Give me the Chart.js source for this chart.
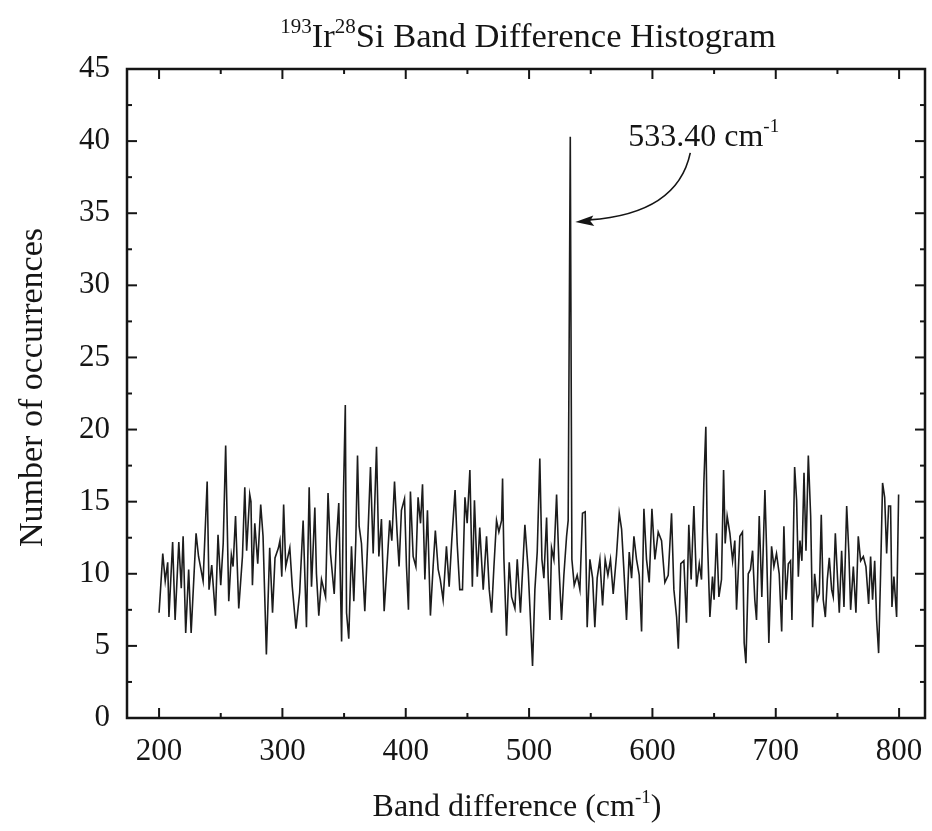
<!DOCTYPE html>
<html>
<head>
<meta charset="utf-8">
<title>193Ir28Si Band Difference Histogram</title>
<script src="https://cdn.jsdelivr.net/npm/chart.js@4.4.1/dist/chart.umd.min.js"></script>
<style>
  html, body { margin: 0; padding: 0; background: #fff; }
  #wrap { width: 932px; height: 831px; }
</style>
</head>
<body>
<div id="wrap"><canvas id="chart" width="932" height="831"></canvas></div>
<script>
// band difference (cm-1) and how often each one occurs
const bandDiff = [
  200, 203, 205, 207, 208, 211, 213, 216, 218, 219.5, 221.6, 224, 226, 230, 232, 235.7, 239, 240.5, 242.7, 245.7,
  247.8, 250, 252, 254, 256.5, 258.6, 260, 262, 264.6, 267.6, 269.5, 271, 273.5, 274.5, 275.7, 277.6, 280, 282.4, 284.3, 287,
  289.7, 292, 294, 296.8, 298, 299.5, 301, 302.7, 306, 308, 311, 314, 316.8, 319.5, 321.7, 323.6, 326.3, 327.6, 329.5, 331.7,
  335, 337, 339, 342, 343.8, 345.7, 348, 349.5, 351, 352, 353.8, 356, 357.9, 359.5, 360.9, 362.2, 364.1, 366.8, 369, 371.4,
  373.6, 376.3, 378.2, 380.3, 382.5, 384.9, 387, 388.7, 390.9, 393, 394.6, 396.5, 399, 400.6, 402.2, 403.8, 406, 408.2, 410, 412,
  413.6, 415.5, 417.6, 420, 422.2, 424, 426.3, 428, 430.3, 433, 435.2, 437.3, 440, 441.7, 443.8, 446, 448, 449.8, 452, 454,
  455.7, 458, 460, 462.8, 465.5, 467.7, 469.6, 471.5, 473.6, 475.5, 477.7, 478.5, 479.6, 481.7, 483.9, 485.8, 488.5, 490.4, 493, 496.6,
  499.3, 500.6, 502.8, 504.7, 506.6, 508.7, 510.4, 512, 514.2, 515.5, 516.9, 518.2, 520.1, 522.3, 524.4, 526.3, 528.2, 530.4, 531.7, 533.4,
  534.7, 536.6, 539, 541.2, 543.3, 545.5, 547.1, 549.3, 551.5, 553.3, 555.2, 557.4, 559.6, 561.7, 563.9, 566, 568.2, 570.9, 573.1, 575,
  576.9, 579, 581.2, 583.1, 585, 587.1, 589.3, 591.2, 593.1, 595.2, 597.4, 599.6, 602, 604.7, 607.4, 610.1, 612.8, 615.5, 617.4, 619.6,
  621, 623, 625.5, 627.6, 629.5, 631.4, 633.6, 635.8, 638, 639.8, 641.7, 643.3, 644.4, 646.6, 648.7, 650, 652, 653.9, 656, 657.7,
  659, 660.6, 662.8, 665, 666.8, 668.2, 670.9, 673, 674.4, 675.8, 677.7, 679.5, 681.2, 683, 684.4, 686.6, 688.7, 691.2, 692.5, 694.4,
  696.6, 698.5, 700.6, 702.8, 704.8, 706.6, 708.3, 710.2, 712, 713.1, 715.3, 716.9, 718.3, 719.6, 721.2, 722.9, 724.5, 726.4, 728.3, 729.9,
  731.5, 733.7, 735.3, 736.9, 738.5, 740.2, 741.8, 743.4, 745.3, 746.6, 748.3, 749.9, 751.5, 753.4, 755.3, 757.5, 759.3, 760.7, 762.9, 765,
  766.9, 768.8, 771, 773.1, 775.3, 776.9, 778.5, 780.2, 781.8, 783.4, 785, 786.6, 788.3, 789.9, 791.5, 793.1, 794.2, 795.8, 798, 799.6
]
const counts = [
  7.3, 11.4, 9.5, 10.8, 7.0, 12.2, 6.8, 12.2, 9.0, 12.6, 5.9, 10.3, 5.9, 12.8, 11.2, 9.5, 16.4, 8.9, 10.6, 7.1,
  12.7, 9.2, 12.1, 18.9, 8.1, 11.3, 10.5, 14.0, 7.6, 11.2, 16.0, 11.6, 15.5, 15.0, 9.2, 13.5, 10.7, 14.8, 12.6, 4.4,
  11.8, 7.3, 11.1, 11.8, 12.3, 9.8, 14.8, 10.5, 11.8, 9.1, 6.2, 8.7, 13.7, 6.3, 16.0, 9.1, 14.6, 10.0, 7.1, 9.6,
  8.4, 15.6, 11.4, 8.6, 12.3, 14.9, 5.3, 15.5, 21.7, 7.3, 5.5, 11.9, 8.1, 12.3, 18.2, 13.3, 12.1, 7.4, 11.9, 17.4,
  11.4, 18.8, 11.2, 13.8, 7.4, 10.7, 13.7, 12.3, 16.4, 12.8, 10.5, 14.4, 15.2, 10.5, 7.5, 15.7, 11.2, 10.5, 15.3, 13.5,
  16.2, 9.6, 14.4, 7.1, 10.5, 13.0, 10.3, 9.6, 8.2, 11.9, 9.1, 12.3, 15.8, 12.1, 8.9, 8.9, 15.3, 13.5, 17.2, 9.1,
  15.1, 9.8, 13.2, 8.9, 12.6, 8.9, 7.3, 10.5, 13.7, 12.9, 13.7, 16.6, 11.0, 5.7, 10.8, 8.4, 7.6, 11.0, 7.3, 13.4,
  10.2, 7.8, 3.6, 8.9, 11.5, 18.0, 11.0, 9.7, 13.9, 9.7, 6.8, 11.8, 11.0, 15.5, 10.2, 6.8, 9.9, 12.6, 13.7, 40.3,
  11.0, 9.2, 9.9, 8.9, 14.2, 14.3, 6.3, 11.0, 9.7, 6.3, 9.7, 11.0, 7.8, 11.0, 9.9, 11.0, 8.6, 11.3, 14.2, 13.1,
  10.2, 6.8, 11.5, 9.7, 12.6, 11.0, 9.9, 6.0, 14.5, 11.0, 9.4, 14.5, 11.0, 12.9, 12.3, 9.4, 9.9, 14.2, 8.9, 7.0,
  4.8, 10.7, 10.9, 6.6, 13.4, 9.6, 14.7, 9.1, 10.7, 9.6, 16.3, 20.2, 13.0, 7.0, 9.8, 8.2, 12.8, 8.4, 9.6, 17.2,
  12.1, 14.0, 12.8, 10.9, 12.3, 7.5, 12.6, 12.9, 5.2, 3.8, 10.0, 10.3, 11.6, 8.2, 6.8, 14.0, 8.4, 15.8, 11.9, 5.2,
  11.9, 10.5, 11.4, 10.0, 6.0, 13.3, 8.2, 10.7, 10.9, 6.8, 17.4, 15.1, 9.8, 12.3, 10.9, 17.0, 11.6, 18.2, 14.0, 6.3,
  10.0, 8.2, 8.6, 14.1, 8.2, 7.0, 9.6, 11.1, 8.9, 8.4, 12.8, 10.0, 7.3, 11.6, 7.7, 14.7, 11.4, 7.5, 10.5, 7.3,
  12.6, 10.9, 11.2, 10.5, 7.9, 11.2, 8.2, 10.9, 6.8, 4.5, 10.0, 16.3, 15.3, 11.4, 14.7, 14.7, 7.7, 9.8, 7.0, 15.5
]
const xTicks = [200, 300, 400, 500, 600, 700, 800]
const yTicks = [0, 5, 10, 15, 20, 25, 30, 35, 40, 45]
const peakPos = 533.40
const peakTop = 40.3
const arrowAt = 34.4

const FONT = '"Liberation Serif", "Times New Roman", serif'
const INK = '#151515'

// text with superscript pieces, drawn left to right
function richWidth(ctx, parts, size) {
  let w = 0
  parts.forEach(p => {
    ctx.font = (p.sup ? Math.round(size * 0.6) : size) + 'px ' + FONT
    w += ctx.measureText(p.t).width
  })
  return w
}
function drawRich(ctx, parts, x, y, size) {
  parts.forEach(p => {
    ctx.font = (p.sup ? Math.round(size * 0.6) : size) + 'px ' + FONT
    ctx.fillText(p.t, x, p.sup ? y - size * 0.42 : y)
    x += ctx.measureText(p.t).width
  })
}

const decor = {
  id: 'decor',
  afterDraw(chart) {
    const ctx = chart.ctx
    const a = chart.chartArea
    const xs = chart.scales.x
    const ys = chart.scales.y
    ctx.save()
    ctx.strokeStyle = INK
    ctx.fillStyle = INK

    // frame
    ctx.lineWidth = 2.5
    ctx.strokeRect(a.left, a.top, a.right - a.left, a.bottom - a.top)

    // inward ticks on all four sides, one minor between majors
    ctx.lineWidth = 2
    const tick = (x1, y1, x2, y2) => { ctx.beginPath(); ctx.moveTo(x1, y1); ctx.lineTo(x2, y2); ctx.stroke() }
    xTicks.forEach((v, i) => {
      const p = xs.getPixelForValue(v)
      tick(p, a.bottom, p, a.bottom - 10)
      tick(p, a.top, p, a.top + 10)
      if (i < xTicks.length - 1) {
        const m = xs.getPixelForValue((v + xTicks[i + 1]) / 2)
        tick(m, a.bottom, m, a.bottom - 5)
        tick(m, a.top, m, a.top + 5)
      }
    })
    yTicks.forEach((v, i) => {
      const p = ys.getPixelForValue(v)
      tick(a.left, p, a.left + 10, p)
      tick(a.right, p, a.right - 10, p)
      if (i < yTicks.length - 1) {
        const m = ys.getPixelForValue((v + yTicks[i + 1]) / 2)
        tick(a.left, m, a.left + 5, m)
        tick(a.right, m, a.right - 5, m)
      }
    })

    ctx.textBaseline = 'alphabetic'
    ctx.textAlign = 'left'
    const cx = (a.left + a.right) / 2

    // title
    const title = [{ t: '193', sup: true }, { t: 'Ir' }, { t: '28', sup: true }, { t: 'Si Band Difference Histogram' }]
    drawRich(ctx, title, cx + 2 - richWidth(ctx, title, 34.5) / 2, 47, 34.5)

    // x axis title
    const xTitle = [{ t: 'Band difference (cm' }, { t: '-1', sup: true }, { t: ')' }]
    drawRich(ctx, xTitle, cx - 9 - richWidth(ctx, xTitle, 32) / 2, 816, 32)

    // y axis title
    ctx.save()
    ctx.translate(33, (a.top + a.bottom) / 2 - 6)
    ctx.rotate(-Math.PI / 2)
    ctx.textAlign = 'center'
    ctx.textBaseline = 'middle'
    ctx.font = '34px ' + FONT
    ctx.fillText('Number of occurrences', 0, 0)
    ctx.restore()

    // peak annotation with curved arrow
    const px = xs.getPixelForValue(peakPos)
    const tipX = px + 5
    const tipY = ys.getPixelForValue(arrowAt)
    const label = [{ t: peakPos.toFixed(2) + ' cm' }, { t: '-1', sup: true }]
    drawRich(ctx, label, px + 58, ys.getPixelForValue(peakTop) + 9, 32)

    ctx.lineWidth = 1.6
    ctx.beginPath()
    ctx.moveTo(tipX + 115, tipY - 69)
    ctx.quadraticCurveTo(tipX + 102, tipY - 8, tipX + 14, tipY - 2)
    ctx.stroke()
    ctx.beginPath()
    ctx.moveTo(tipX, tipY)
    ctx.lineTo(tipX + 18, tipY - 6.5)
    ctx.lineTo(tipX + 15, tipY - 1)
    ctx.lineTo(tipX + 19, tipY + 4)
    ctx.closePath()
    ctx.fill()

    ctx.restore()
  }
}

new Chart(document.getElementById('chart'), {
  type: 'line',
  data: {
    datasets: [{
      data: bandDiff.map((x, i) => ({ x, y: counts[i] })),
      borderColor: '#1c1c1c',
      borderWidth: 1.6,
      pointRadius: 0,
      tension: 0,
      fill: false
    }]
  },
  options: {
    responsive: false,
    animation: false,
    devicePixelRatio: 1,
    layout: { padding: { top: 69, right: 7, left: 0, bottom: 0 } },
    plugins: { legend: { display: false }, tooltip: { enabled: false }, title: { display: false } },
    scales: {
      x: {
        type: 'linear',
        min: 174,
        max: 821,
        afterBuildTicks: (s) => { s.ticks = xTicks.map(v => ({ value: v })) },
        afterFit: (s) => { s.height = 113; s.paddingLeft = 0; s.paddingRight = 0 },
        grid: { display: false, drawTicks: false },
        border: { display: false },
        ticks: { autoSkip: false, maxRotation: 0, padding: 15, color: INK, font: { family: FONT, size: 31 } }
      },
      y: {
        min: 0,
        max: 45,
        afterBuildTicks: (s) => { s.ticks = yTicks.map(v => ({ value: v })) },
        afterFit: (s) => { s.width = 127; s.paddingTop = 0; s.paddingBottom = 0 },
        grid: { display: false, drawTicks: false },
        border: { display: false },
        ticks: { autoSkip: false, padding: 17, color: INK, font: { family: FONT, size: 31 } }
      }
    }
  },
  plugins: [decor]
})
</script>
</body>
</html>
